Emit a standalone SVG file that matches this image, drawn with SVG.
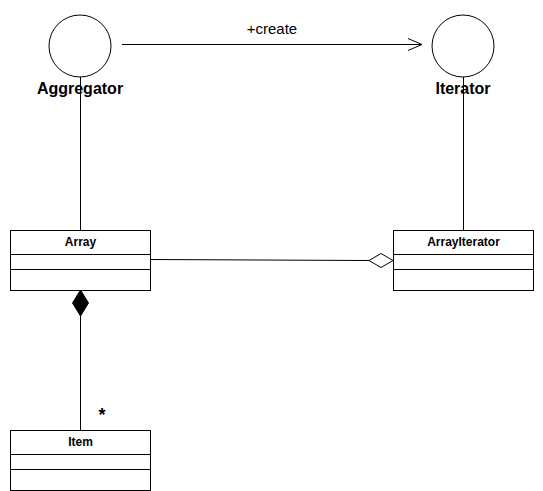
<svg xmlns="http://www.w3.org/2000/svg" width="543" height="491" viewBox="0 0 543 491">
<style>
.ln{stroke:#000;stroke-width:1;fill:none}
.box{fill:#fff;stroke:#000;stroke-width:1}
.cls{font-family:"Liberation Sans",Arial,sans-serif;font-size:12px;font-weight:bold;text-anchor:middle}
.lbl{font-family:"Liberation Sans",Arial,sans-serif;font-size:16px;font-weight:bold;text-anchor:middle}
.edge{font-family:"Liberation Sans",Arial,sans-serif;font-size:15px;text-anchor:middle}
</style>
<defs>
<marker id="open" viewBox="0 0 16 14" refX="15" refY="7" markerWidth="16" markerHeight="14" markerUnits="userSpaceOnUse" orient="auto">
<path d="M1,1 L15,7 L1,13" fill="none" stroke="#000" stroke-width="1"/>
</marker>
</defs>
<rect width="543" height="491" fill="#fff"/>
<g id="connectors">
<line class="ln" x1="122" y1="44.5" x2="422" y2="44.5" marker-end="url(#open)"/>
<text class="edge" x="272" y="34">+create</text>
<line class="ln" x1="80.5" y1="77" x2="80.5" y2="230"/>
<line class="ln" x1="463.5" y1="77" x2="463.5" y2="230"/>
<line class="ln" x1="150" y1="259.5" x2="369" y2="260.5"/>
<polygon points="393,260.5 381,253.5 369,260.5 381,267.5" fill="#fff" stroke="#000" stroke-width="1"/>
<line class="ln" x1="80.5" y1="316" x2="80.5" y2="430"/>
<polygon points="80.5,290 88.5,303 80.5,316 72.5,303" fill="#000" stroke="#000" stroke-width="1"/>
<text x="102" y="421" style="font-family:'Liberation Sans',Arial,sans-serif;font-size:18px;font-weight:bold;text-anchor:middle">*</text>
</g>
<g id="aggregator">
<circle cx="80" cy="46" r="31" class="box"/>
<text class="lbl" x="80" y="94">Aggregator</text>
</g>
<g id="iterator">
<circle cx="463" cy="46" r="31" class="box"/>
<text class="lbl" x="463" y="94">Iterator</text>
</g>
<g id="array">
<rect class="box" x="10.5" y="230.5" width="140" height="60"/>
<line class="ln" x1="10.5" y1="254.5" x2="150.5" y2="254.5"/>
<line class="ln" x1="10.5" y1="269.5" x2="150.5" y2="269.5"/>
<text class="cls" x="80.5" y="246">Array</text>
</g>
<g id="arrayiterator">
<rect class="box" x="393.5" y="230.5" width="140" height="60"/>
<line class="ln" x1="393.5" y1="254.5" x2="533.5" y2="254.5"/>
<line class="ln" x1="393.5" y1="269.5" x2="533.5" y2="269.5"/>
<text class="cls" x="463.5" y="246">ArrayIterator</text>
</g>
<g id="item">
<rect class="box" x="10.5" y="430.5" width="140" height="60"/>
<line class="ln" x1="10.5" y1="454.5" x2="150.5" y2="454.5"/>
<line class="ln" x1="10.5" y1="469.5" x2="150.5" y2="469.5"/>
<text class="cls" x="80.5" y="446">Item</text>
</g>
</svg>
